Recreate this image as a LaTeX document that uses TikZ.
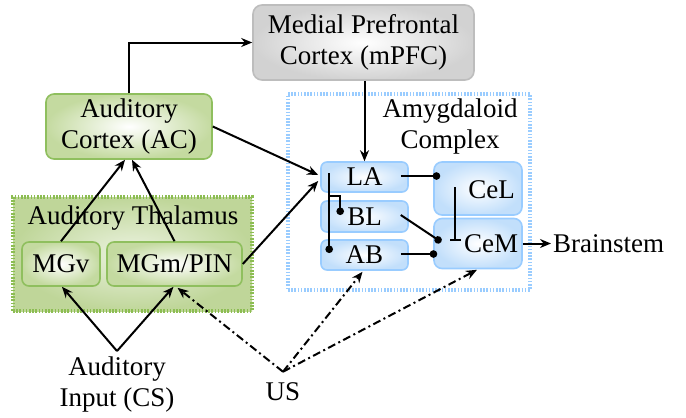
\documentclass[tikz,border=0pt]{standalone}
\usepackage{fontspec}
\setmainfont{Liberation Serif}
\usetikzlibrary{arrows.meta,calc}
\definecolor{greenB}{HTML}{8FBF5E}
\definecolor{greenF}{HTML}{C4DAA0}
\definecolor{thalF}{HTML}{BFD699}
\definecolor{thalB}{HTML}{8CBD52}
\definecolor{blueB}{HTML}{99CCFF}
\definecolor{blueF}{HTML}{C2DFFB}
\definecolor{grayB}{HTML}{BDBDBD}
\definecolor{grayF}{HTML}{D2D2D2}
\tikzset{
  greenbox/.style={draw=greenB, line width=1.6pt, rounded corners=8pt, inner color=white, outer color=greenF, align=center, inner sep=0pt},
  bluebox/.style={draw=blueB, line width=1.6pt, rounded corners=6pt, inner color=white, outer color=blueF, align=center, inner sep=0pt},
  graybox/.style={draw=grayB, line width=1.6pt, rounded corners=9pt, inner color=white, outer color=grayF, align=center, inner sep=0pt},
  conn/.style={line width=2pt, -{Stealth[length=11pt,width=9pt]}},
  dotconn/.style={line width=2pt, -{Circle[length=7.5pt,width=7.5pt]}},
  inhib/.style={line width=2pt, -{Bar[width=11pt,line width=1.8pt]}},
  usconn/.style={line width=2pt, dash pattern=on 8pt off 3.5pt on 2pt off 3.5pt, -{Stealth[length=11pt,width=9pt]}},
  plain/.style={align=center, inner sep=2pt}
}
\begin{document}
\begin{tikzpicture}[x=1pt,y=-1pt, font=\fontsize{27}{31}\selectfont]
\useasboundingbox (0,0) rectangle (686,418);
% groups
\node[draw=thalB, line width=3.5pt, dash pattern=on 1.6pt off 1.6pt, inner color=white!70!thalF, outer color=thalF, minimum width=239pt, minimum height=114pt, inner sep=0pt] (thal) at (132.5,254) {};
\node[inner sep=0pt] (thallabel) at (133,218) {Auditory Thalamus};
\node[draw=blueB, line width=3.5pt, dash pattern=on 1.6pt off 1.6pt, fill=white, minimum width=242pt, minimum height=196pt, inner sep=0pt] (amyg) at (409,192) {};
\node[plain, inner sep=0pt] (amyglabel) at (450,127) {Amygdaloid\\Complex};
% boxes
\node[graybox, minimum width=221pt, minimum height=75pt] (mPFC) at (363.5,42.5) {Medial Prefrontal\\Cortex (mPFC)};
\node[greenbox, minimum width=166pt, minimum height=65pt] (AC) at (129,126.5) {Auditory\\Cortex (AC)};
\node[greenbox, rounded corners=7pt, minimum width=78pt, minimum height=44pt] (MGv) at (61,264) {MGv};
\node[greenbox, rounded corners=7pt, minimum width=135pt, minimum height=44pt] (MGm) at (174.5,264) {MGm/PIN};
\node[bluebox, minimum width=87pt, minimum height=30pt] (LA) at (364.5,177) {LA};
\node[bluebox, minimum width=87pt, minimum height=31pt] (BL) at (364.5,216.5) {BL};
\node[bluebox, minimum width=87pt, minimum height=30pt] (AB) at (364.5,255) {AB};
\node[bluebox, rounded corners=8pt, minimum width=88pt, minimum height=53pt] (CeL) at (478,188.5) {};
\node[inner sep=0pt] (CeLt) at (491.5,190) {CeL};
\node[bluebox, rounded corners=8pt, minimum width=88pt, minimum height=50pt] (CeM) at (478,243.5) {};
\node[inner sep=0pt] (CeMt) at (491,244) {CeM};
\node[plain, anchor=west] (brain) at (551,243.5) {Brainstem};
\node[plain] (input) at (117,385) {Auditory\\Input (CS)};
\node[plain] (US) at (283,392) {US};
% connectors
\draw[conn] (AC.north) |- (mPFC.west);
\draw[conn] (LA.north |- mPFC.south) -- (LA.north);
\draw[conn] (AC.east) -- ($(LA.west)+(-2,-2)$);
\draw[conn] (MGm.east) -- ($(LA.west)+(-2,4)$);
\draw[conn] (MGv.north) -- ($(AC.south)+(-4,0)$);
\draw[conn] (MGm.north) -- ($(AC.south)+(3,0)$);
\draw[conn] ($(input.north)+(0,-4)$) -- ($(MGv.south)+(1,0)$);
\draw[conn] ($(input.north)+(0,-4)$) -- ($(MGm.south)+(-1,0)$);
\draw[usconn] ($(US.north)+(0,-9)$) -- ($(MGm.south)+(3,1)$);
\draw[usconn] ($(US.north)+(0,-9)$) -- ($(AB.south)+(-2,1)$);
\draw[usconn] ($(US.north)+(0,-9)$) -- ($(CeM.south)+(-1,0.5)$);
% amygdala internal
\draw[dotconn] ($(LA.west)+(9,-4)$) -- ($(AB.west)+(9,-2)$);
\draw[dotconn] ($(LA.west)+(9,19)$) -| ($(BL.west)+(20,-1.5)$);
\draw[dotconn] ($(LA.east)+(-8,-1)$) -- ($(CeL.west)+(7,-12.5)$);
\draw[dotconn] ($(BL.east)+(-8,-1.5)$) -- ($(CeM.west)+(8,-1.5)$);
\draw[dotconn] ($(AB.east)+(-8,-1)$) -- ($(CeM.west)+(4,10.5)$);
\draw[inhib] ($(CeL.west)+(22,-1.5)$) -- ($(CeM.west)+(22,-2.5)$);
\draw[conn] (CeM.east) -- (brain.west);
\end{tikzpicture}
\end{document}
